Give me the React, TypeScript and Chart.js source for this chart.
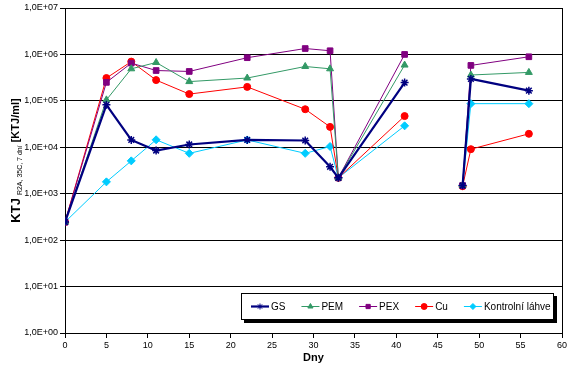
import React, { useEffect, useRef } from "react";
import { Chart, registerables } from "chart.js";
import { drawPoint } from "chart.js/helpers";
Chart.register(...registerables);

// Days of sampling (45 = no sample, breaks the lines)
const days = [0, 5, 8, 11, 15, 22, 29, 32, 33, 41, 45, 48, 49, 56];
const gsValues = [245, 82000, 14400, 8500, 11500, 14400, 14000, 3800, 2200, 247000, null, 1500, 297000, 166000];
const pemValues = [245, 105000, 490000, 670000, 260000, 310000, 550000, 490000, 2200, 590000, null, 1500, 360000, 410000];
const pexValues = [245, 250000, 650000, 450000, 430000, 850000, 1340000, 1200000, 2200, 1000000, null, 1500, 580000, 890000];
const cuValues = [245, 310000, 700000, 280000, 140000, 200000, 66000, 27500, 2200, 47000, null, 1450, 9100, 19500];
const ctrlValues = [245, 1800, 5100, 14500, 7400, 14400, 7400, 10400, 2200, 29000, null, 1500, 87000, 87000];

const seriesNames = ["GS", "PEM", "PEX", "Cu", "Kontrolní láhve"];
const yTickValues = [1, 10, 100, 1000, 10000, 100000, 1000000, 10000000];
const yTickLabels = ["1,0E+00", "1,0E+01", "1,0E+02", "1,0E+03", "1,0E+04", "1,0E+05", "1,0E+06", "1,0E+07"];
const xTitle = "Dny";
const yTitleMain = "KTJ";
const yTitleSub = "R2A, 35C, 7 dní";
const yTitleUnit = "[KTJ/ml]";

const FONT = "Arial, 'Liberation Sans', sans-serif";

const toPoints = (vals: (number | null)[]) => days.map((d, i) => ({ x: d, y: vals[i] }));

const extrasPlugin = {
  id: "extras",
  afterDraw(chart: any) {
    const ctx = chart.ctx;
    const ca = chart.chartArea;
    ctx.save();
    // right border
    ctx.strokeStyle = "#000";
    ctx.lineWidth = 1;
    ctx.beginPath();
    ctx.moveTo(Math.round(ca.right) + 0.5, ca.top);
    ctx.lineTo(Math.round(ca.right) + 0.5, ca.bottom);
    ctx.stroke();

    // y title
    ctx.save();
    ctx.translate(15, (ca.top + ca.bottom) / 2 - 10);
    ctx.rotate(-Math.PI / 2);
    ctx.fillStyle = "#000";
    ctx.textBaseline = "alphabetic";
    ctx.font = "bold 13px " + FONT;
    const w1 = ctx.measureText(yTitleMain).width;
    ctx.font = "7px " + FONT;
    const w2 = ctx.measureText(yTitleSub).width;
    ctx.font = "bold 11px " + FONT;
    const w3 = ctx.measureText(yTitleUnit).width;
    const gap = 3;
    const total = w1 + gap + w2 + gap + w3;
    let x = -total / 2;
    ctx.font = "bold 13px " + FONT;
    ctx.fillText(yTitleMain, x, 5);
    x += w1 + gap;
    ctx.font = "7px " + FONT;
    ctx.fillText(yTitleSub, x, 7);
    x += w2 + gap;
    ctx.font = "bold 11px " + FONT;
    ctx.fillText(yTitleUnit, x, 4);
    ctx.restore();

    // legend
    ctx.font = "10px " + FONT;
    const lineLen = 18;
    const textGap = 2;
    const entryGap = 16;
    const ds = chart.data.datasets;
    const widths = ds.map((d: any) => ctx.measureText(d.label).width);
    let contentW = 10 + 3;
    widths.forEach((w: number, i: number) => {
      contentW += lineLen + textGap + w + (i < widths.length - 1 ? entryGap : 0);
    });
    const boxR = Math.round(ca.right) - 8;
    const boxB = Math.round(ca.bottom) - 13;
    const boxH = 27;
    const boxL = Math.round(boxR - contentW);
    const boxT = boxB - boxH;
    const bw = boxR - boxL;
    ctx.fillStyle = "#000";
    ctx.fillRect(boxL + 3, boxT + 3, bw, boxH);
    ctx.fillStyle = "#fff";
    ctx.fillRect(boxL, boxT, bw, boxH);
    ctx.strokeStyle = "#000";
    ctx.lineWidth = 1;
    ctx.strokeRect(boxL + 0.5, boxT + 0.5, bw - 1, boxH - 1);
    let ex = boxL + 10;
    const ey = boxT + boxH / 2;
    ds.forEach((d: any, i: number) => {
      ctx.strokeStyle = d.borderColor;
      ctx.lineWidth = d.borderWidth;
      ctx.beginPath();
      ctx.moveTo(ex, ey);
      ctx.lineTo(ex + lineLen, ey);
      ctx.stroke();
      ctx.fillStyle = d.pointBackgroundColor;
      ctx.strokeStyle = d.pointBorderColor;
      ctx.lineWidth = 1;
      drawPoint(ctx, { pointStyle: d.pointStyle, radius: 3, borderWidth: 1, rotation: 0 }, ex + lineLen / 2, ey);
      ctx.fillStyle = "#000";
      ctx.textBaseline = "middle";
      ctx.textAlign = "left";
      ctx.font = "10px " + FONT;
      ctx.fillText(d.label, ex + lineLen + textGap, ey + 1);
      ex += lineLen + textGap + widths[i] + entryGap;
    });
    ctx.restore();
  },
};

function mkDataset(label: string, vals: (number | null)[], color: string, style: string, width: number, radius: number) {
  return {
    label,
    data: toPoints(vals),
    borderColor: color,
    backgroundColor: color,
    pointBackgroundColor: color,
    pointBorderColor: color,
    pointStyle: style,
    pointRadius: radius,
    pointBorderWidth: style === "star" ? 1.5 : 1,
    borderWidth: width,
    spanGaps: false,
    tension: 0,
  };
}

export default function App() {
  const ref = useRef<HTMLCanvasElement>(null);
  useEffect(() => {
    if (!ref.current) return;
    const chart = new Chart(ref.current, {
      type: "line",
      data: {
        datasets: [
          mkDataset(seriesNames[0], gsValues, "#000080", "star", 2.2, 4),
          mkDataset(seriesNames[1], pemValues, "#339966", "triangle", 1, 4),
          mkDataset(seriesNames[2], pexValues, "#800080", "rect", 1, 4),
          mkDataset(seriesNames[3], cuValues, "#FF0000", "circle", 1, 3.5),
          mkDataset(seriesNames[4], ctrlValues, "#00CCFF", "rectRot", 1, 4),
        ] as any,
      },
      options: {
        animation: false,
        responsive: false,
        layout: { padding: { top: 8, right: 18, left: 0, bottom: 0 } },
        plugins: {
          legend: { display: false },
          tooltip: { enabled: false },
        },
        scales: {
          x: {
            type: "linear",
            min: 0,
            max: 60,
            ticks: { stepSize: 5, color: "#000", font: { size: 9, family: FONT }, padding: 2, maxRotation: 0 },
            grid: { drawOnChartArea: false, drawTicks: true, tickLength: 5, color: "#000" },
            border: { color: "#000", width: 1 },
            title: { display: true, text: xTitle, color: "#000", font: { size: 11, weight: "bold", family: FONT }, padding: 0 },
            afterFit: (s: any) => { s.height = 32; },
          },
          y: {
            type: "logarithmic",
            min: 1,
            max: 10000000,
            afterBuildTicks: (s: any) => { s.ticks = yTickValues.map((v) => ({ value: v })); },
            ticks: {
              color: "#000",
              font: { size: 9, family: FONT },
              padding: 2,
              autoSkip: false,
              callback: (v: any) => {
                const i = yTickValues.indexOf(Number(v));
                return i >= 0 ? yTickLabels[i] : "";
              },
            },
            grid: { color: "#000", lineWidth: 1, tickLength: 5, drawTicks: true },
            border: { color: "#000", width: 1 },
            afterFit: (s: any) => { s.width = 65; },
          },
        },
      } as any,
      plugins: [extrasPlugin],
    });
    return () => chart.destroy();
  }, []);
  return (
    <div style={{ position: "absolute", left: 0, top: 0, width: 580, height: 365, background: "#fff" }}>
      <canvas ref={ref} width={580} height={365} />
    </div>
  );
}
